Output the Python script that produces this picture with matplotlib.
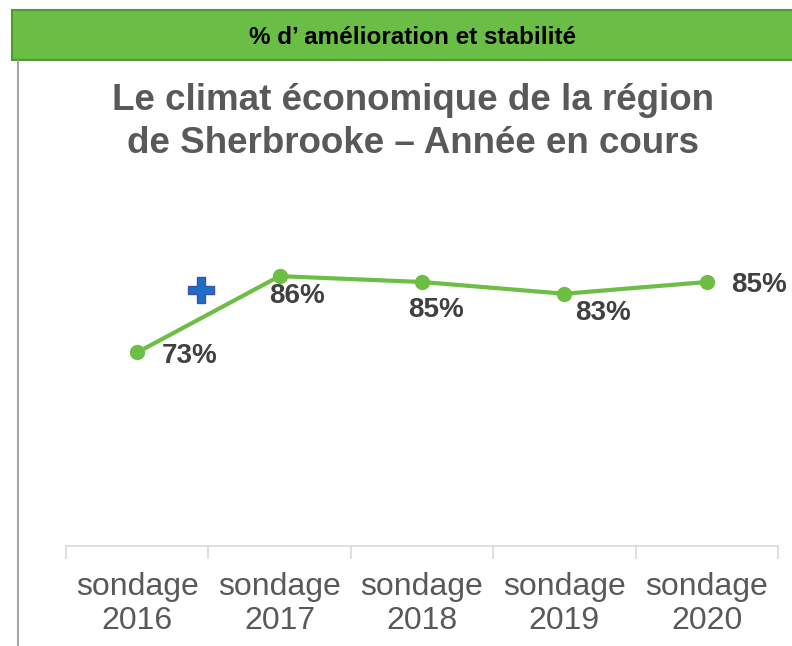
import matplotlib.pyplot as plt
from matplotlib.patches import Rectangle
from matplotlib.lines import Line2D
import numpy as np

# data
categories = ['sondage\n2016', 'sondage\n2017', 'sondage\n2018', 'sondage\n2019', 'sondage\n2020']
values = [73, 86, 85, 83, 85]
labels = ['73%', '86%', '85%', '83%', '85%']

green = '#6DBE45'
grey_txt = '#595959'

plt.rcParams['font.family'] = ['Liberation Sans', 'DejaVu Sans']
fig = plt.figure(figsize=(7.92, 6.46), dpi=100)

# header band
fig.patches.append(Rectangle((12/792, 1-60/646), 1, 50/646, transform=fig.transFigure,
                             facecolor='#6ABD45', edgecolor='#4E9A32', linewidth=1.5))
fig.text(413/792, 1-44/646, '% d\u2019 amélioration et stabilité', ha='center', va='baseline',
         fontsize=17.5, fontweight='bold', color='black')
# left frame line
fig.lines.append(Line2D([18/792, 18/792], [0, 1-61/646], transform=fig.transFigure,
                        color='#A6A6A6', linewidth=1.5))

fig.text(413/792, 1-110/646, 'Le climat économique de la région',
         ha='center', va='baseline', fontsize=26.5, fontweight='bold', color=grey_txt)
fig.text(413/792, 1-153/646, 'de Sherbrooke \u2013 Année en cours',
         ha='center', va='baseline', fontsize=26.5, fontweight='bold', color=grey_txt)

ax = fig.add_axes([66/792, 1-546/646, (778-66)/792, (546-194)/646])
x = np.arange(len(values))
ax.plot(x, values, color=green, linewidth=3, marker='o', markersize=10, zorder=3)
ax.set_xlim(-0.5, 4.5)
ax.set_ylim(40, 100)

offsets = [(52, -4), (17, -20), (14, -28), (39, -19), (52, -3)]
for xi, v, lab, off in zip(x, values, labels, offsets):
    ax.annotate(lab, (xi, v), xytext=off, textcoords='offset pixels', ha='center', va='center',
                fontsize=20, fontweight='bold', color='#404040')

# blue plus marker
ax.plot([0.45], [83.6], marker='P', markersize=19, color='#1F6CC9', markeredgecolor='#3F51A5',
        markeredgewidth=1, zorder=4)

for s in ['top', 'right', 'left']:
    ax.spines[s].set_visible(False)
ax.spines['bottom'].set_color('#D9D9D9')
ax.spines['bottom'].set_linewidth(1.2)
ax.set_yticks([])
ax.set_xticks(np.arange(-0.5, 5, 1))
ax.set_xticklabels([])
ax.tick_params(axis='x', which='major', length=9, color='#D9D9D9', width=1.2)
ax.set_xticks(x, minor=True)
ax.set_xticklabels(categories, minor=True, fontsize=23, color=grey_txt, linespacing=1.15)
ax.tick_params(axis='x', which='minor', length=0, pad=19)

fig.savefig('out.png', dpi=100)
